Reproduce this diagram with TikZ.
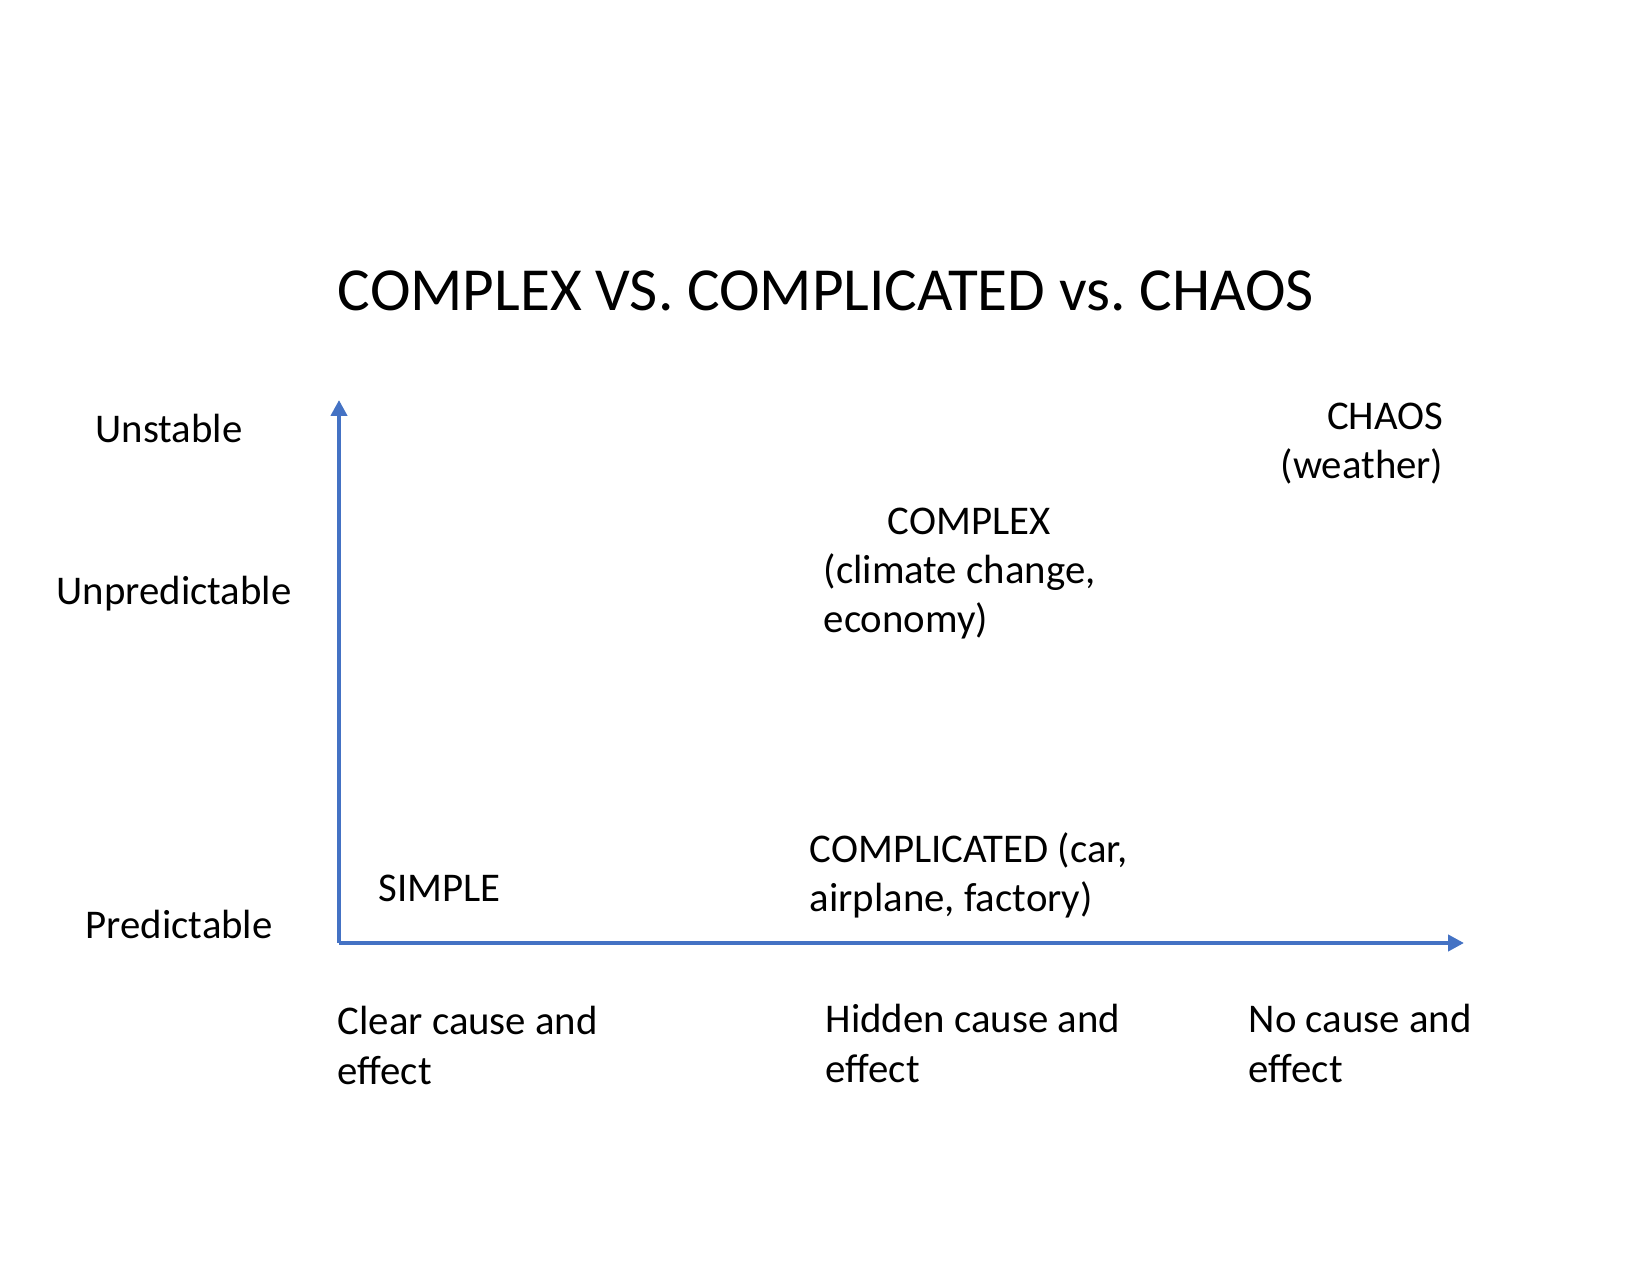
\documentclass[tikz,border=0pt]{standalone}
\usepackage{fontspec}
\setmainfont{Carlito}
\usetikzlibrary{arrows.meta}
\definecolor{axisblue}{RGB}{68,114,196}
\frenchspacing
\tikzset{
  lbl/.style={inner sep=0pt, font=\fontsize{11.6}{14}\selectfont},
  axisline/.style={line width=0.04cm, color=axisblue, -{Triangle[width=0.16cm, length=0.16cm]}}
}

\begin{document}
\begin{tikzpicture}[x=0.01cm, y=-0.01cm]
			%%%%% START %%%%%
			\useasboundingbox[fill=white] (0, 0) rectangle (1649, 1274);
			
			\node[inner sep=0pt, anchor=base, font=\fontsize{17.4}{21}\selectfont] (title) at (826, 311) {COMPLEX VS. COMPLICATED vs. CHAOS};
			
			\coordinate (origin) at (339, 943);
			\coordinate (ytip) at (339, 400);
			\coordinate (xtip) at (1464, 943);
			\draw[axisline] (origin) -- (ytip);
			\draw[axisline] (origin) -- (xtip);
			
			\node[lbl, anchor=base west] (unstable) at (95, 443) {Unstable};
			\node[lbl, anchor=base west] (unpred) at (56, 605) {Unpredictable};
			\node[lbl, anchor=base west] (pred) at (85, 939) {Predictable};
			
			% two-line nodes: base is the last line
			\node[lbl, anchor=base west] (simple) at (378, 902) {SIMPLE};
			\node[lbl, anchor=base west] (complex) at (887, 535) {COMPLEX};
			\node[lbl, anchor=base west, align=left] (climate) at (823, 633) {(climate change,\\economy)};
			\node[lbl, anchor=base east, align=right] (chaos) at (1444, 479) {CHAOS\\(weather)};
			\node[lbl, anchor=base west, align=left] (compl) at (809, 912) {COMPLICATED (car,\\airplane, factory)};
			
			\node[lbl, anchor=base west, align=left] (clear) at (337, 1084) {Clear cause and\\effect};
			\node[lbl, anchor=base west, align=left] (hidden) at (825, 1082) {Hidden cause and\\effect};
			\node[lbl, anchor=base west, align=left] (nocause) at (1248, 1082) {No cause and\\effect};
			%%%%% END %%%%%
\end{tikzpicture}
\end{document}
